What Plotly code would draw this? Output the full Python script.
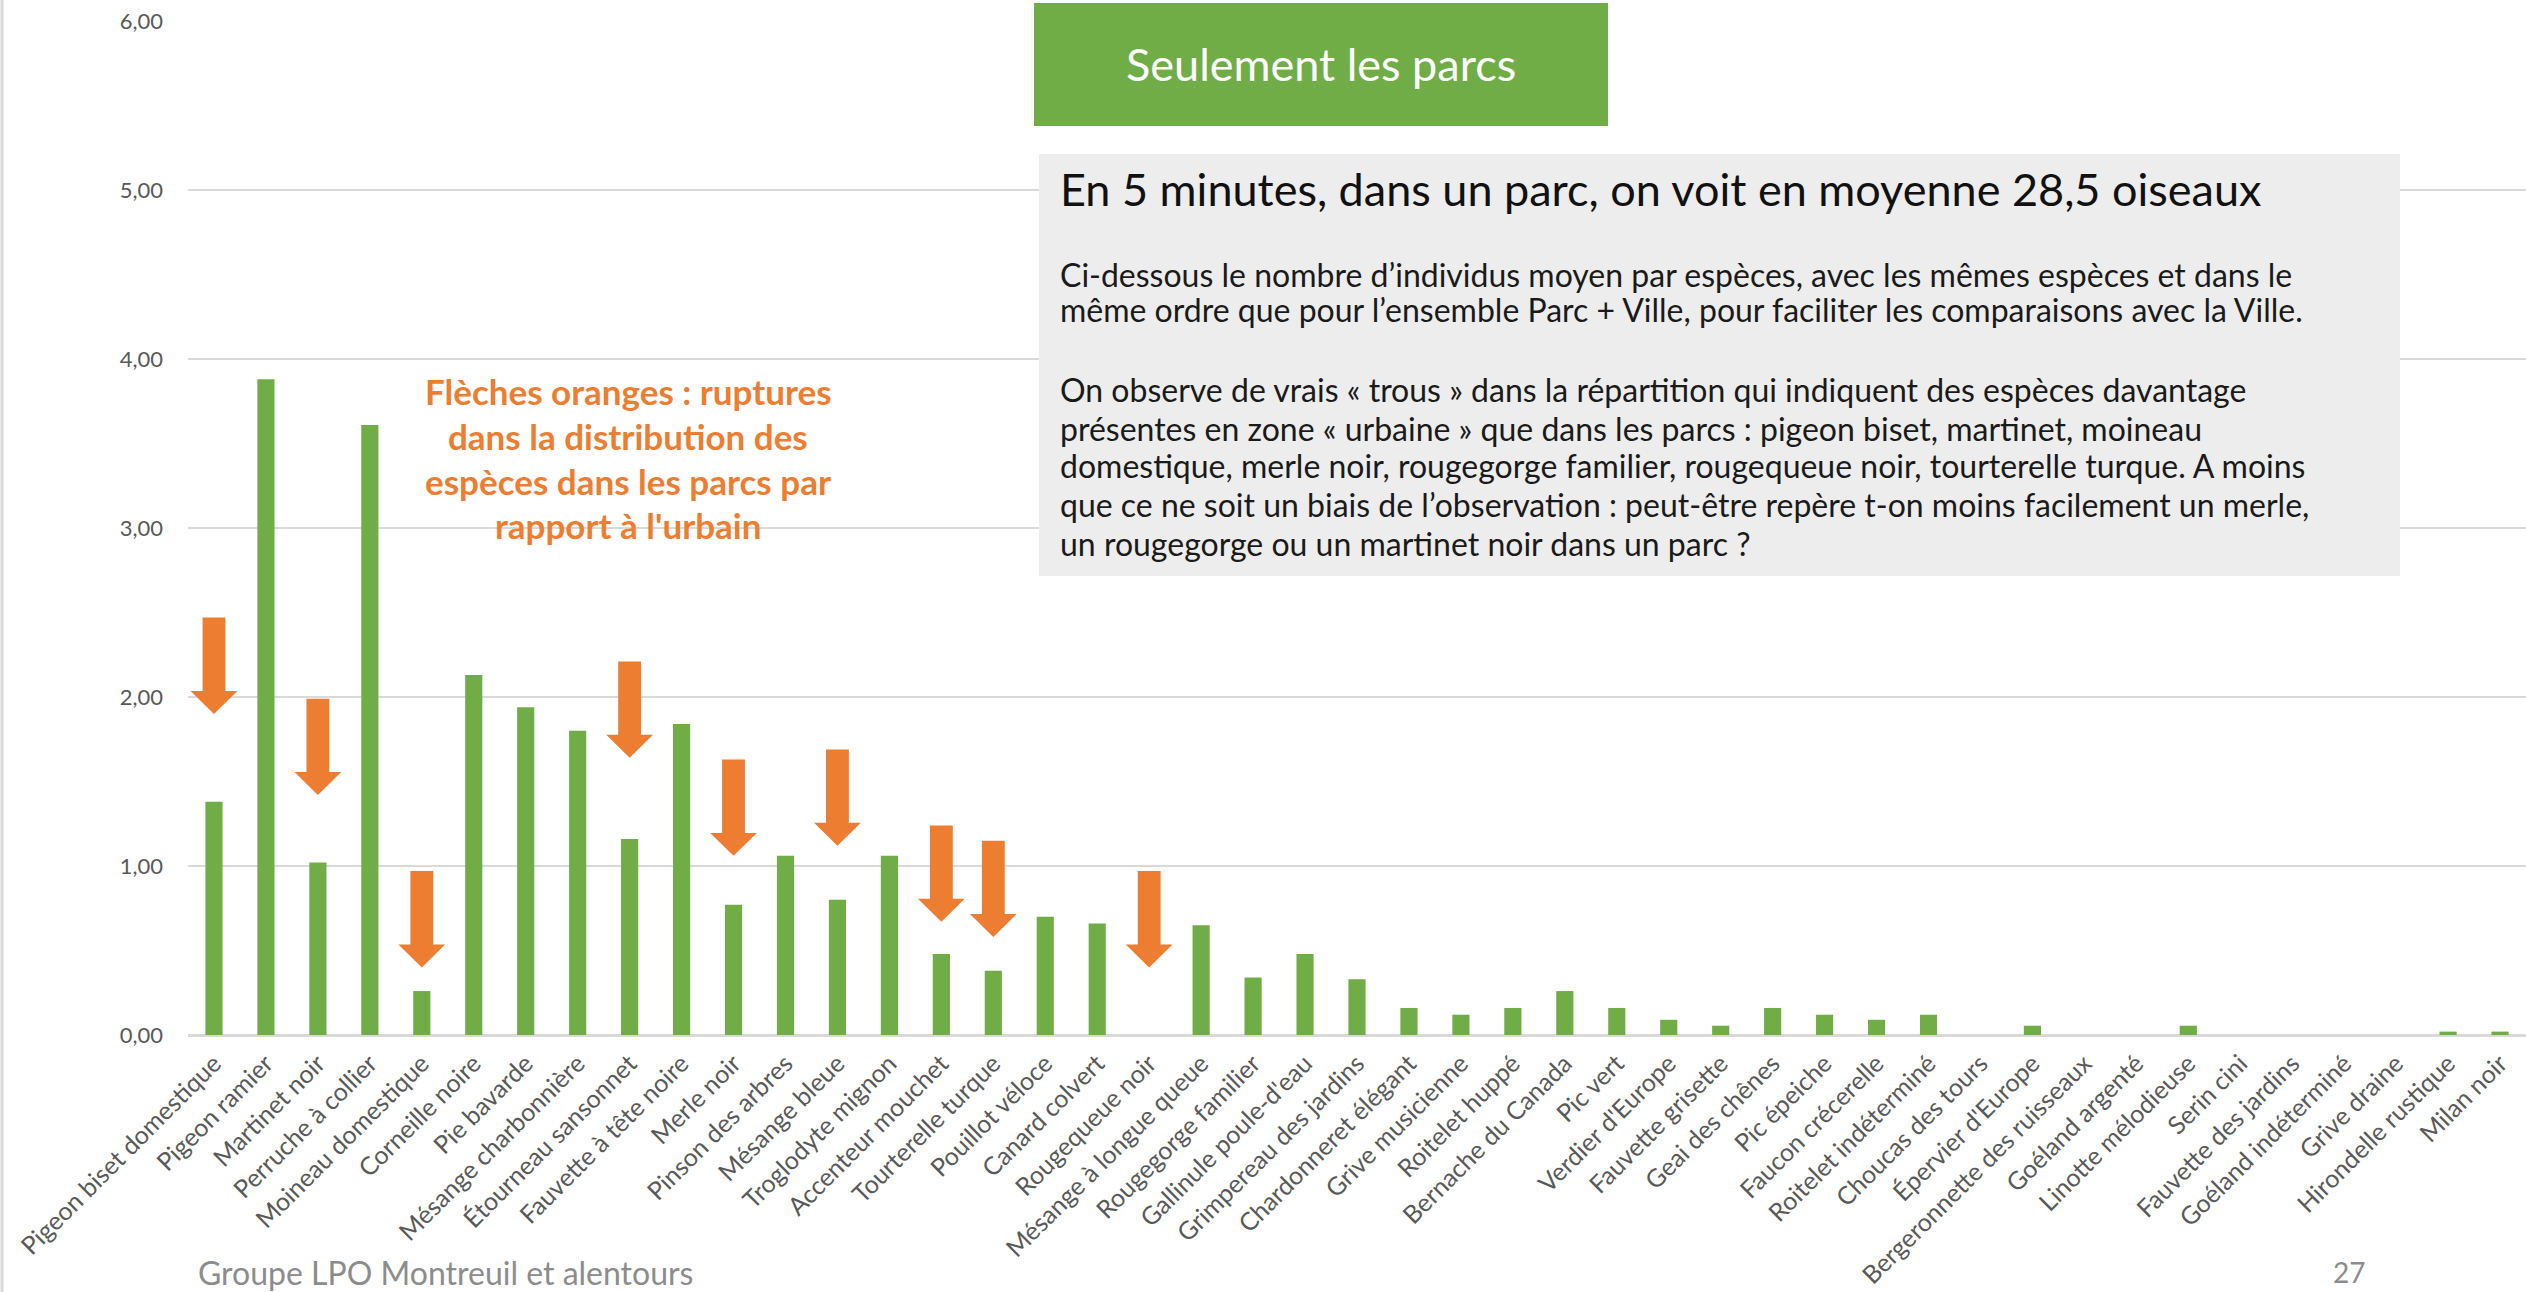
import plotly.graph_objects as go

# ---------------- data ----------------
species = [
    "Pigeon biset domestique", "Pigeon ramier", "Martinet noir", "Perruche à collier",
    "Moineau domestique", "Corneille noire", "Pie bavarde", "Mésange charbonnière",
    "Étourneau sansonnet", "Fauvette à tête noire", "Merle noir", "Pinson des arbres",
    "Mésange bleue", "Troglodyte mignon", "Accenteur mouchet", "Tourterelle turque",
    "Pouillot véloce", "Canard colvert", "Rougequeue noir", "Mésange à longue queue",
    "Rougegorge familier", "Gallinule poule-d'eau", "Grimpereau des jardins",
    "Chardonneret élégant", "Grive musicienne", "Roitelet huppé", "Bernache du Canada",
    "Pic vert", "Verdier d'Europe", "Fauvette grisette", "Geai des chênes", "Pic épeiche",
    "Faucon crécerelle", "Roitelet indéterminé", "Choucas des tours", "Épervier d'Europe",
    "Bergeronnette des ruisseaux", "Goéland argenté", "Linotte mélodieuse", "Serin cini",
    "Fauvette des jardins", "Goéland indéterminé", "Grive draine", "Hirondelle rustique",
    "Milan noir",
]
mean_count = [
    1.38, 3.88, 1.02, 3.61,
    0.26, 2.13, 1.94, 1.80,
    1.16, 1.84, 0.77, 1.06,
    0.80, 1.06, 0.48, 0.38,
    0.70, 0.66, 0.00, 0.65,
    0.34, 0.48, 0.33,
    0.16, 0.12, 0.16, 0.26,
    0.16, 0.09, 0.055, 0.16, 0.12,
    0.09, 0.12, 0.00, 0.055,
    0.00, 0.00, 0.055, 0.00,
    0.00, 0.00, 0.00, 0.02,
    0.02,
]

# orange "rupture" arrows: species, top of arrow, tip of arrow (y values)
arrow_species = ["Pigeon biset domestique", "Martinet noir", "Moineau domestique",
                 "Étourneau sansonnet", "Merle noir", "Mésange bleue",
                 "Accenteur mouchet", "Tourterelle turque", "Rougequeue noir"]
arrow_top = [2.47, 1.99, 0.97, 2.21, 1.63, 1.69, 1.24, 1.15, 0.97]
arrow_tip = [1.90, 1.42, 0.40, 1.64, 1.06, 1.12, 0.67, 0.58, 0.40]

y_ticks = [0, 1, 2, 3, 4, 5, 6]

GREEN = "#70AD47"
ORANGE = "#ED7D31"
FONT = "Lato"

W, H = 2526, 1292
x_idx = list(range(len(species)))

fig = go.Figure()
fig.add_trace(go.Bar(
    x=x_idx, y=mean_count, marker=dict(color=GREEN, line=dict(width=0)),
    width=0.33, hoverinfo="x+y",
))

# arrows as path shapes in data coordinates
shaft_hw = 0.22
head_hw = 0.45
head_h = 0.136
shapes = []
for sp, top, tip in zip(arrow_species, arrow_top, arrow_tip):
    xc = species.index(sp)
    base = tip + head_h
    path = (f"M {xc - shaft_hw},{top} L {xc + shaft_hw},{top} L {xc + shaft_hw},{base} "
            f"L {xc + head_hw},{base} L {xc},{tip} L {xc - head_hw},{base} "
            f"L {xc - shaft_hw},{base} Z")
    shapes.append(dict(type="path", path=path, xref="x", yref="y",
                       fillcolor=ORANGE, line=dict(width=0), layer="above"))

def px(x):
    return x / W

def py(y):
    return 1 - y / H

# green title box
shapes.append(dict(type="rect", xref="paper", yref="paper",
                   x0=px(1034), x1=px(1608), y0=py(126), y1=py(3),
                   fillcolor=GREEN, line=dict(width=0), layer="above"))
# grey text box
shapes.append(dict(type="rect", xref="paper", yref="paper",
                   x0=px(1039), x1=px(2400), y0=py(576), y1=py(154),
                   fillcolor="#EDEDED", line=dict(width=0), layer="above"))
# slide left border
shapes.append(dict(type="line", xref="paper", yref="paper",
                   x0=px(2), x1=px(2), y0=0, y1=1,
                   line=dict(color="#D9D9D9", width=3)))

annotations = []
annotations.append(dict(text="Seulement les parcs", xref="paper", yref="paper",
                        x=px(1321), y=py(64), xanchor="center", yanchor="middle",
                        showarrow=False, font=dict(family=FONT, size=45, color="white")))
annotations.append(dict(text="En 5 minutes, dans un parc, on voit en moyenne 28,5 oiseaux",
                        xref="paper", yref="paper", x=px(1058), y=py(189),
                        xanchor="left", yanchor="middle", showarrow=False,
                        font=dict(family=FONT, size=45, color="#111111")))
para1 = ["Ci-dessous le nombre d’individus moyen par espèces, avec les mêmes espèces et dans le",
         "même ordre que pour l’ensemble Parc + Ville, pour faciliter les comparaisons avec la Ville."]
para2 = ["On observe de vrais « trous » dans la répartition qui indiquent des espèces davantage",
         "présentes en zone « urbaine » que dans les parcs : pigeon biset, martinet, moineau",
         "domestique, merle noir, rougegorge familier, rougequeue noir, tourterelle turque. A moins",
         "que ce ne soit un biais de l’observation : peut-être repère t-on moins facilement un merle,",
         "un rougegorge ou un martinet noir dans un parc ?"]
para_y = [274, 309, 390, 428, 466, 504, 543]
for line, yy in zip(para1 + para2, para_y):
    annotations.append(dict(text=line, xref="paper", yref="paper", x=px(1058), y=py(yy),
                            xanchor="left", yanchor="middle", showarrow=False,
                            font=dict(family=FONT, size=32, color="#1a1a1a")))

orange_lines = ["Flèches oranges : ruptures", "dans la distribution des",
                "espèces dans les parcs par", "rapport à l'urbain"]
orange_y = [391, 436, 481, 525]
for line, yy in zip(orange_lines, orange_y):
    annotations.append(dict(text=f"<b>{line}</b>", xref="paper", yref="paper",
                            x=px(628), y=py(yy), xanchor="center", yanchor="middle",
                            showarrow=False, font=dict(family=FONT, size=35, color=ORANGE)))

annotations.append(dict(text="Groupe LPO Montreuil et alentours", xref="paper", yref="paper",
                        x=px(196), y=py(1272), xanchor="left", yanchor="middle",
                        showarrow=False, font=dict(family=FONT, size=32, color="#8C8C8C")))
annotations.append(dict(text="27", xref="paper", yref="paper",
                        x=px(2349), y=py(1272), xanchor="center", yanchor="middle",
                        showarrow=False, font=dict(family=FONT, size=28, color="#8C8C8C")))

fig.update_layout(
    width=W, height=H,
    margin=dict(l=0, r=0, t=0, b=0, autoexpand=False),
    paper_bgcolor="white", plot_bgcolor="white",
    showlegend=False,
    separators=", ",
    font=dict(family=FONT, color="#595959"),
    shapes=shapes,
    annotations=annotations,
    xaxis=dict(
        domain=[px(188), 1.0],
        range=[-0.5, len(species) - 0.5],
        tickmode="array", tickvals=x_idx, ticktext=species,
        tickangle=-45, tickfont=dict(family=FONT, size=25, color="#595959"),
        showgrid=False, zeroline=False, automargin=False,
        showline=False, ticks="", ticklabelstandoff=8,
    ),
    yaxis=dict(
        domain=[py(1035), py(21)],
        range=[0, 6],
        tickmode="array", tickvals=y_ticks, tickformat=".2f",
        tickfont=dict(family=FONT, size=22, color="#595959"),
        showgrid=True, gridcolor="#D9D9D9", gridwidth=2,
        zeroline=True, zerolinecolor="#D9D9D9", zerolinewidth=3,
        showline=False, ticks="", ticklabelstandoff=24, automargin=False,
    ),
)

fig.write_html("out.html")
